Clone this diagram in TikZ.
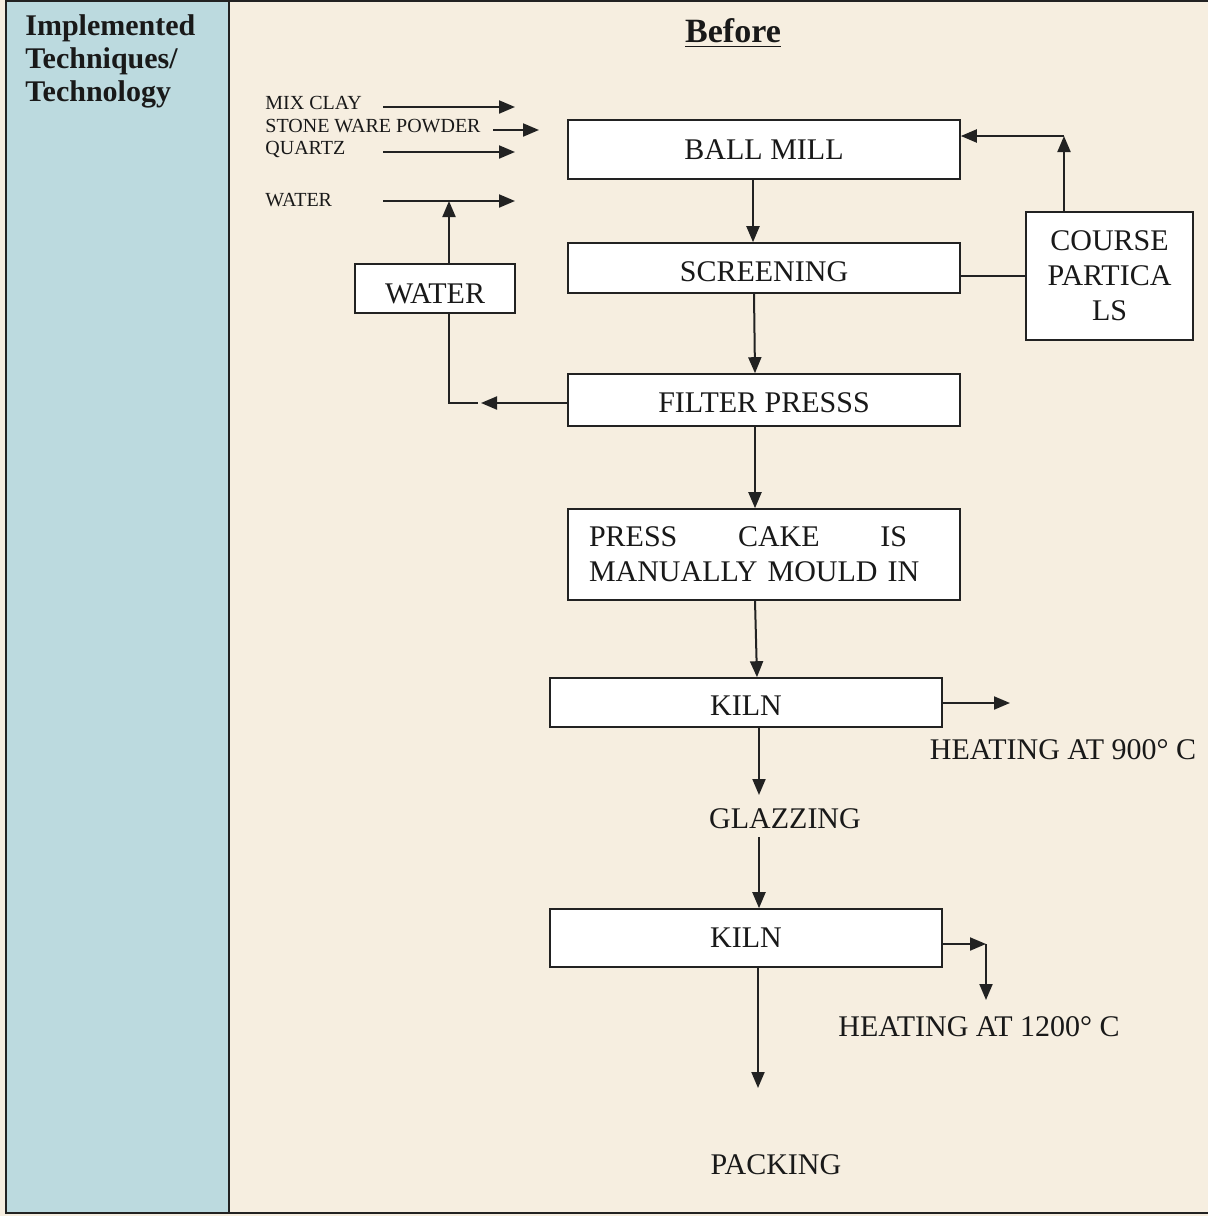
\documentclass[tikz,border=0pt]{standalone}
\usepackage{fontspec}
\setmainfont{Liberation Serif}
\usetikzlibrary{arrows.meta}
\definecolor{cream}{HTML}{F6EEE0}
\definecolor{colblue}{HTML}{BCDADF}
\definecolor{edge}{HTML}{222222}
\tikzset{
  box/.style={draw=edge, fill=white, line width=0.8pt, inner sep=0pt, font=\fontsize{15}{17.5}\selectfont, text=black!90},
  lbl/.style={inner sep=0pt, font=\fontsize{15}{17.5}\selectfont, text=black!90},
  small/.style={inner sep=0pt, font=\fontsize{10}{12}\selectfont, text=black!90, anchor=west},
  arr/.style={draw=edge, line width=1pt, -{Triangle[length=8pt,width=6.5pt]}},
  ln/.style={draw=edge, line width=1pt},
}
\begin{document}
\begin{tikzpicture}[x=0.5pt,y=-0.5pt]
\useasboundingbox (0,0) rectangle (1208,1216);
% background
\fill[cream] (0,0) rectangle (1208,1216);
\fill[colblue] (6,1) rectangle (229,1213);
\draw[edge, line width=1pt] (1208,1) -- (6,1) -- (6,1213) -- (1208,1213);
\draw[edge, line width=0.8pt] (229,1) -- (229,1213);
% header texts
\node[inner sep=0pt, anchor=north west, align=left, font=\fontsize{15}{16.5}\selectfont\bfseries, text=black!90] (hdr) at (25,14) {Implemented\\Techniques/\\Technology};
\node[inner sep=0pt, font=\fontsize{17}{20}\selectfont\bfseries, text=black!90] (before) at (733,33) {\underline{Before}};
% boxes
\node[box, minimum width=196pt, minimum height=29.5pt] (ball) at (764,149.5) {BALL MILL};
\node[box, minimum width=196pt, minimum height=25pt, text height=13pt, text depth=0pt] (screen) at (764,268) {SCREENING};
\node[box, minimum width=196pt, minimum height=26pt, text height=12pt, text depth=0pt] (filter) at (764,400) {FILTER PRESSS};
\node[box, minimum width=196pt, minimum height=45.5pt, text width=175pt, inner xsep=10.5pt, align=left] (cake) at (764,554.5) {\makebox[159pt][s]{PRESS\hfill CAKE\hfill IS}\\MANUALLY MOULD IN};
\node[box, minimum width=196pt, minimum height=24.5pt, text height=13pt, text depth=0pt] (kilna) at (746,702.5) {KILN};
\node[box, minimum width=196pt, minimum height=29pt] (kilnb) at (746,938) {KILN};
\node[box, minimum width=80pt, minimum height=24.5pt, text height=15pt, text depth=0pt] (waterbox) at (435,288.5) {WATER};
\node[box, minimum width=83.5pt, minimum height=64pt, align=center] (course) at (1109.5,276) {COURSE\\PARTICA\\LS};
% free texts
\node[lbl] (glaz) at (785,819) {GLAZZING};
\node[lbl] (packing) at (776,1165) {PACKING};
\node[lbl] (heata) at (1063,750) {HEATING AT 900° C};
\node[lbl] (heatb) at (979,1027) {HEATING AT 1200° C};
\node[small] (mix) at (265,103) {MIX CLAY};
\node[small] (stone) at (265,126) {STONE WARE POWDER};
\node[small] (quartz) at (265,149) {QUARTZ};
\node[small] (waterlbl) at (265,200) {WATER};
% coordinates
\coordinate (mixS) at (383,107);
\coordinate (mixE) at (515,107);
\coordinate (stoneS) at (493,130);
\coordinate (stoneE) at (539,130);
\coordinate (quartzS) at (383,152);
\coordinate (quartzE) at (515,152);
\coordinate (waterS) at (383,201);
\coordinate (waterE) at (515,201);
\coordinate (waterJ) at (449,201);
\coordinate (wcorner) at (449,403);
\coordinate (wend) at (478,403);
\coordinate (ftip) at (481,403);
\coordinate (courseUp) at (1064,136);
\coordinate (kilnaE) at (1010,703);
\coordinate (kilnbTurn) at (986,944);
\coordinate (kilnbEnd) at (986,1000);
\coordinate (glazTop) at (759,795);
\coordinate (glazBot) at (759,837);
\coordinate (packTop) at (758,1088);
% input arrows
\draw[arr] (mixS) -- (mixE);
\draw[arr] (stoneS) -- (stoneE);
\draw[arr] (quartzS) -- (quartzE);
\draw[arr] (waterS) -- (waterE);
\draw[arr] (waterbox.north -| waterJ) -- (waterJ);
% water return
\draw[ln] (waterbox.south -| wcorner) -- (wcorner) -- (wend);
\draw[arr] (filter.west |- ftip) -- (ftip);
% main flow
\draw[arr] (ball.south -| 753,0) -- (screen.north -| 753,0);
\draw[arr] (screen.south -| 754,0) -- (filter.north -| 755,0);
\draw[arr] (filter.south -| 755,0) -- (cake.north -| 755,0);
\draw[arr] (cake.south -| 755,0) -- (kilna.north -| 757,0);
\draw[arr] (kilna.south -| glazTop) -- (glazTop);
\draw[arr] (glazBot) -- (kilnb.north -| glazBot);
\draw[arr] (kilnb.south -| packTop) -- (packTop);
% coarse particles loop
\draw[line width=0.8pt, draw=edge] (screen.east |- 0,276) -- (course.west);
\draw[arr] (course.north -| courseUp) -- (courseUp);
\draw[arr] (courseUp) -- (ball.east |- courseUp);
% heating arrows
\draw[arr] (kilna.east |- kilnaE) -- (kilnaE);
\draw[arr] (kilnb.east |- kilnbTurn) -- (kilnbTurn);
\draw[arr] (kilnbTurn) -- (kilnbEnd);
\end{tikzpicture}
\end{document}
